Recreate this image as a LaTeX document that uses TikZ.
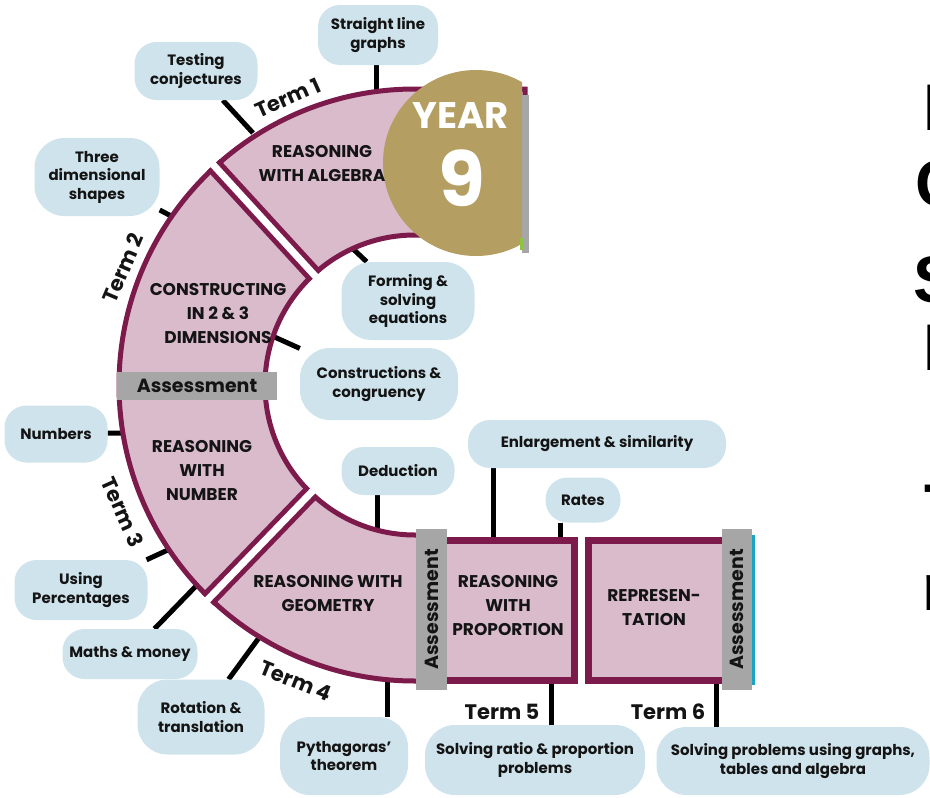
\documentclass[tikz,border=0pt]{standalone}
\usepackage{fontspec}
\setmainfont{Poppins}
\newfontfamily\bigsans{Liberation Sans}
\definecolor{maroon}{RGB}{123,26,75}
\definecolor{pinkfill}{RGB}{217,187,203}
\definecolor{bubble}{RGB}{207,227,236}
\definecolor{gold}{RGB}{180,158,97}
\definecolor{greybar}{RGB}{166,166,166}
\definecolor{txt}{RGB}{20,20,20}
\definecolor{teal}{RGB}{27,163,198}
\definecolor{lime}{RGB}{140,198,63}
\pgfdeclarelayer{back}
\pgfdeclarelayer{bg}
\pgfsetlayers{back,bg,main}
\tikzset{
  bub/.style={fill=bubble, rounded corners=22pt, inner sep=0pt, align=center,
    font=\fontsize{15}{18.5}\selectfont\bfseries, text=txt},
  tallbub/.style={bub, rounded corners=30pt},
  conn/.style={line width=5pt, black},
  head/.style={align=center, font=\fontsize{17}{24}\selectfont\bfseries, text=txt, inner sep=0pt},
  term/.style={font=\fontsize{21}{21}\selectfont\bfseries, text=txt, inner sep=0pt},
  assess/.style={fill=greybar, inner sep=0pt, font=\fontsize{19}{19}\selectfont\bfseries, text=txt},
  seg/.style={fill=pinkfill, draw=maroon, line width=5pt},
  bigl/.style={anchor=base west, inner sep=0pt, font=\bigsans\fontsize{66}{66}\selectfont\bfseries}
}
\begin{document}
\begin{tikzpicture}[x=1pt,y=-1pt]
\useasboundingbox (0,0) rectangle (930,798);
\begin{pgfonlayer}{back}
\fill[white] (0,0) rectangle (930,798);
\end{pgfonlayer}

% ring
\filldraw[seg]
 (525,89) -- (415,89) arc[start angle=-90, end angle=-270, radius=296] -- (420,681) -- (420,535) -- (415,535)
 arc[start angle=-270, end angle=-90, radius=150] -- (525,235) -- cycle;
% separators
\draw[maroon, line width=17pt] ([shift={(415,385)}]-132.5:147.5) -- ([shift={(415,385)}]-132.5:298.5);
\draw[white, line width=7pt] ([shift={(415,385)}]-132.5:140) -- ([shift={(415,385)}]-132.5:302);
\draw[maroon, line width=17pt] ([shift={(415,385)}]-226:147.5) -- ([shift={(415,385)}]-226:298.5);
\draw[white, line width=7pt] ([shift={(415,385)}]-226:140) -- ([shift={(415,385)}]-226:302);

% boxes
\filldraw[fill=pinkfill, draw=maroon, line width=7pt] (433,540.5) rectangle (574.5,680.5);
\filldraw[fill=pinkfill, draw=maroon, line width=7pt] (588.5,540.5) rectangle (740,680.5);

% year circle
\begin{scope}
\clip (360,50) rectangle (522,270);
\fill[gold] (476,163) circle[radius=93];
\end{scope}
\fill[greybar] (522,95) rectangle (529,253);
\fill[lime] (520,238) rectangle (523,250);
\node[text=white, inner sep=0pt, font=\fontsize{37}{37}\selectfont\bfseries] (yr) at (461,116) {YEAR};
\node[text=white, inner sep=0pt, font=\fontsize{76}{76}\selectfont\bfseries] (nine) at (462,178) {9};

% assessment bars
\node[assess, minimum width=160pt, minimum height=28pt] (a1) at (197,386) {Assessment};
\node[assess, rotate=90, minimum width=161pt, minimum height=31pt] (a2) at (431.5,609.5) {Assessment};
\node[assess, rotate=90, minimum width=161pt, minimum height=30pt] (a3) at (737,609.5) {Assessment};
\fill[teal] (752,535) rectangle (755,685);

% headings
\node[head] (h1) at (322,163) {REASONING\\WITH ALGEBRA};
\node[head] (h2) at (218,314) {CONSTRUCTING\\IN 2 \& 3\\DIMENSIONS};
\node[head] (h3) at (202,471) {REASONING\\WITH\\NUMBER};
\node[head] (h4) at (328,594) {REASONING WITH\\GEOMETRY};
\node[head] (h5) at (508,606) {REASONING\\WITH\\PROPORTION};
\node[head] (h6) at (654,608) {REPRESEN-\\TATION};

% terms
\node[term, rotate=24] (t1) at (288,98) {Term 1};
\node[term, rotate=67] (t2) at (123,268) {Term 2};
\node[term, rotate=-66] (t3) at (123,512) {Term 3};
\node[term, rotate=-22] (t4) at (296,681) {Term 4};
\node[term] (t5) at (502,712) {Term 5};
\node[term] (t6) at (668,712) {Term 6};

% bubbles
\node[bub, minimum width=120pt, minimum height=60pt] (sl) at (378,35) {Straight line\\graphs};
\node[bub, minimum width=123pt, minimum height=58pt] (tc) at (196,71) {Testing\\conjectures};
\node[tallbub, minimum width=125pt, minimum height=78pt] (td) at (97,177) {Three\\dimensional\\shapes};
\node[tallbub, minimum width=133pt, minimum height=78pt] (fs) at (408,301) {Forming \&\\solving\\equations};
\node[tallbub, minimum width=158pt, minimum height=72pt] (cc) at (379,384) {Constructions \&\\congruency};
\node[bub, minimum width=103pt, minimum height=57pt] (nu) at (56,434) {Numbers};
\node[bub, minimum width=133pt, minimum height=60pt] (up) at (81,590) {Using\\Percentages};
\node[bub, minimum width=135pt, minimum height=50pt] (mm) at (130,654) {Maths \& money};
\node[tallbub, minimum width=127pt, minimum height=75pt] (rt) at (201,717) {Rotation \&\\translation};
\node[tallbub, minimum width=128pt, minimum height=78pt] (py) at (344,756) {Pythagoras’\\theorem};
\node[bub, minimum width=113pt, minimum height=48pt] (de) at (398,471) {Deduction};
\node[bub, minimum width=258pt, minimum height=48pt] (en) at (597,444) {Enlargement \& similarity};
\node[bub, minimum width=75pt, minimum height=45pt] (ra) at (583,500) {Rates};
\node[tallbub, minimum width=220pt, minimum height=70pt] (srp) at (535,760) {Solving ratio \& proportion\\problems};
\node[tallbub, minimum width=273pt, minimum height=68pt] (spg) at (793,761) {Solving problems using graphs,\\tables and algebra};

% ring attachment points
\coordinate (c1) at (376,94);
\coordinate (c2) at (253,133);
\coordinate (c3) at (173,217);
\coordinate (c4) at (350,246);
\coordinate (c5) at (270,335);
\coordinate (c6) at (124,433);
\coordinate (c7) at (170,549);
\coordinate (c8) at (198,584);
\coordinate (c9) at (261,635);
\coordinate (c10) at (387,678);
\coordinate (c11) at (377,534);
\coordinate (c12) at (493,545);
\coordinate (c13) at (560,545);
\coordinate (c14) at (551,678);
\coordinate (c15) at (716,678);

\begin{pgfonlayer}{bg}
\draw[conn] (c1 |- sl.south) -- (c1);
\draw[conn] (tc) -- (c2);
\draw[conn] (td) -- (c3);
\draw[conn] (fs) -- (c4);
\draw[conn] (cc) -- (c5);
\draw[conn] (nu) -- (c6);
\draw[conn] (up) -- (c7);
\draw[conn] (mm) -- (c8);
\draw[conn] (rt) -- (c9);
\draw[conn] (c10 |- py.north) -- (c10);
\draw[conn] (c11 |- de.south) -- (c11);
\draw[conn] (c12 |- en.south) -- (c12);
\draw[conn] (c13 |- ra.south) -- (c13);
\draw[conn] (c14 |- srp.north) -- (c14);
\draw[conn] (c15 |- spg.north) -- (c15);
\end{pgfonlayer}

% cut-off text at right edge
\node[bigl] (r1) at (923,130) {I};
\node[bigl] (r2) at (915,206) {C};
\node[bigl] (r3) at (913,302) {S};
\node[bigl] (r4) at (923,370) {I};
\node[bigl] (r5) at (924,530) {T};
\node[bigl] (r6) at (922,610) {n};
\end{tikzpicture}
\end{document}
